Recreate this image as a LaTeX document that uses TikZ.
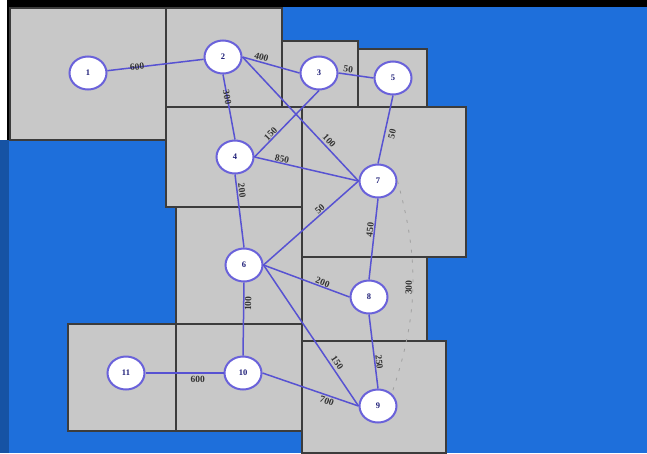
\documentclass[tikz,border=0pt]{standalone}
\usepackage{fontspec}
\setmainfont{Liberation Serif}
\usetikzlibrary{shapes.geometric}
\definecolor{bgblue}{HTML}{1E6FDB}
\definecolor{boxgray}{HTML}{C8C8C8}
\definecolor{boxline}{HTML}{3C3C3C}
\definecolor{nodeblue}{HTML}{6A62DA}
\definecolor{edgeblue}{HTML}{5752D2}
\definecolor{numblue}{HTML}{1E1E78}
\definecolor{lblgray}{HTML}{333333}
\begin{document}
\begin{tikzpicture}[x=1pt,y=-1pt,
  box/.style={fill=boxgray,draw=boxline,line width=1.4pt},
  vert/.style={ellipse,draw=nodeblue,line width=2pt,fill=white,minimum width=37pt,minimum height=33pt,inner sep=0pt,font=\fontsize{8.5}{8.5}\selectfont\bfseries,text=numblue},
  link/.style={draw=edgeblue,line width=1.5pt},
  faint/.style={draw=gray!75,line width=0.8pt,dash pattern=on 3pt off 7pt},
  wt/.style={sloped,inner sep=0.5pt,font=\fontsize{9.5}{9.5}\selectfont\bfseries,text=lblgray}]
\useasboundingbox (0,0) rectangle (647,453);
\fill[white] (0,0) rectangle (647,453);
\fill[bgblue] (7,7) rectangle (647,453);
\fill[bgblue!75!black] (0,140) rectangle (9,453);
\fill[black] (7,0) rectangle (647,7);
\fill[black] (7,0) rectangle (10,140);
% boxes
\draw[box] (10,8) rectangle (166,140);
\draw[box] (166,8) rectangle (282,107);
\draw[box] (282,41) rectangle (358,107);
\draw[box] (358,49) rectangle (427,107);
\draw[box] (166,107) rectangle (302,207);
\draw[box] (302,107) rectangle (466,257);
\draw[box] (176,207) rectangle (302,324);
\draw[box] (302,257) rectangle (427,341);
\draw[box] (302,341) rectangle (446,453);
\draw[box] (176,324) rectangle (302,431);
\draw[box] (68,324) rectangle (176,431);
% nodes
\node[vert] (n1) at (88,73) {1};
\node[vert] (n2) at (223,57) {2};
\node[vert] (n3) at (319,73) {3};
\node[vert] (n5) at (393,78) {5};
\node[vert] (n4) at (235,157) {4};
\node[vert] (n7) at (378,181) {7};
\node[vert] (n6) at (244,265) {6};
\node[vert] (n8) at (369,297) {8};
\node[vert] (n10) at (243,373) {10};
\node[vert] (n11) at (126,373) {11};
\node[vert] (n9) at (378,406) {9};
% faint connector
\path[faint] (n7.east) to[bend left=17] node[wt,pos=.5,above=0pt]{300} (n9.north east);
% connectors
\path[link] (n1) -- node[wt,pos=.31,above=-4pt]{600} (n2);
\path[link] (n2.east) -- node[wt,pos=.31,above=0.5pt]{400} (n3.west);
\path[link] (n2.south) -- node[wt,pos=.35]{300} (n4.north);
\path[link] (n2.east) -- node[wt,pos=.71,above=1.5pt]{100} (n7.west);
\path[link] (n4.east) -- node[wt,pos=.30,above=0pt]{150} (n3.south);
\path[link] (n3.east) -- node[wt,pos=.26,above=0.5pt]{50} (n5.west);
\path[link] (n5.south) -- node[wt,pos=.54,below=2.8pt]{50} (n7.north);
\path[link] (n4.east) -- node[wt,pos=.255,above=0pt]{850} (n7.west);
\path[link] (n4.south) -- node[wt,pos=.23,above=0.5pt]{200} (n6.north);
\path[link] (n6.east) -- node[wt,pos=.625,above=0pt]{50} (n7.west);
\path[link] (n7.south) -- node[wt,pos=.39,above=0pt]{450} (n8.north);
\path[link] (n6.east) -- node[wt,pos=.67,above=0pt]{200} (n8.west);
\path[link] (n6.east) -- node[wt,pos=.72,above=2pt]{150} (n9.west);
\path[link] (n6.south) -- node[wt,pos=.29,below=0pt]{100} (n10.north);
\path[link] (n8.south) -- node[wt,pos=.65,above=0pt]{250} (n9.north);
\path[link] (n11.east) -- node[wt,pos=.67,below=1.5pt]{600} (n10.west);
\path[link] (n10.east) -- node[wt,pos=.69,below=1pt]{700} (n9.west);
\end{tikzpicture}
\end{document}
